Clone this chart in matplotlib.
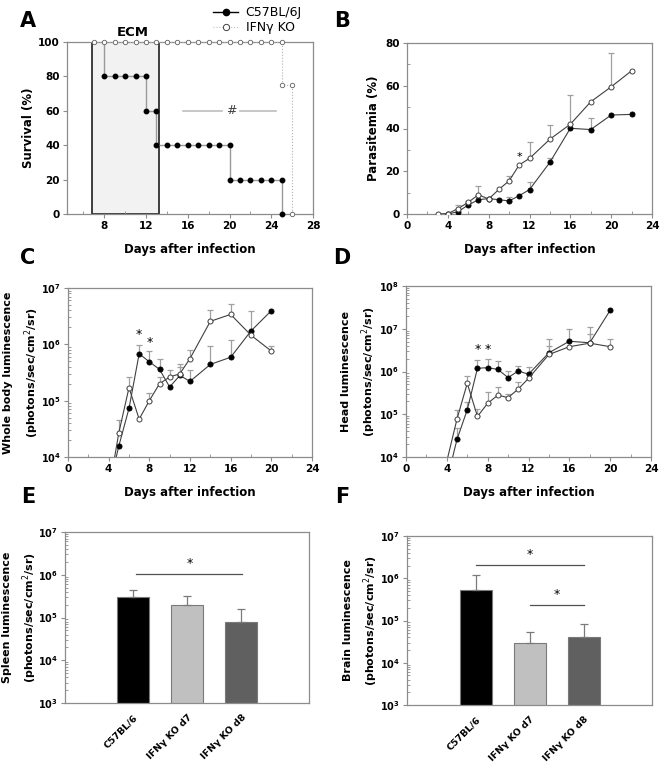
"""Survival, parasitemia and luminescence panels (C57BL/6J vs IFNg KO)."""

import numpy as np
import matplotlib
matplotlib.use("Agg")
import matplotlib.pyplot as plt
from matplotlib.lines import Line2D
from matplotlib.patches import Rectangle
from matplotlib.ticker import FuncFormatter, LogLocator, MultipleLocator, NullFormatter

# ---- A: survival ----
A_C57_DAYS = [8, 8, 9, 10, 11, 12, 12, 13, 13, 14, 15, 16, 17, 18, 19, 20, 20, 21, 22, 23, 24, 25, 25]
A_C57_SURV = [100, 80, 80, 80, 80, 80, 60, 60, 40, 40, 40, 40, 40, 40, 40, 40, 20, 20, 20, 20, 20, 20, 0]
A_IFN_DAYS = [7, 8, 9, 10, 11, 12, 13, 14, 15, 16, 17, 18, 19, 20, 21, 22, 23, 24, 25, 25, 26, 26]
A_IFN_SURV = [100] * 19 + [75, 75, 0]
ECM_WINDOW = (6.85, 13.25)

# ---- B: parasitemia ----
B_C57_DAYS = [4, 5, 6, 7, 8, 9, 10, 11, 12, 14, 16, 18, 20, 22]
B_C57 = [0, 1.1, 4.2, 6.7, 7.2, 6.7, 6.1, 8.6, 11.4, 24.2, 40.1, 39.5, 46.3, 46.6]
B_C57_HI = [np.nan, np.nan, np.nan, np.nan, np.nan, np.nan, 7.8, np.nan, 14.8, 26.4, np.nan, 44.9, np.nan, np.nan]
B_IFN_DAYS = [3, 4, 5, 6, 7, 8, 9, 10, 11, 12, 14, 16, 18, 20, 22]
B_IFN = [0, 0.2, 2.5, 5.5, 9, 7, 11.5, 15.5, 23, 26, 35, 42, 52.5, 59.5, 67]
B_IFN_HI = [np.nan, np.nan, 4.0, 6.0, 13.0, np.nan, np.nan, 18.0, np.nan, 33.5, 41.5, 55.7, np.nan, 75.5, np.nan]

# ---- C: whole body luminescence ----
LUM_DAYS = [4, 5, 6, 7, 8, 9, 10, 11, 12, 14, 16, 18, 20]
C_C57 = [2.7e3, 1.57e4, 7.3e4, 6.8e5, 4.9e5, 3.6e5, 1.75e5, 2.8e5, 2.2e5, 4.4e5, 5.9e5, 1.73e6, 3.96e6]
C_C57_HI = [np.nan, np.nan, np.nan, 9.7e5, 7.6e5, 5.6e5, np.nan, 4.0e5, 3.5e5, 9.5e5, 1.2e6, 3.86e6, np.nan]
C_IFN = [2.4e3, 2.7e4, 1.7e5, 4.7e4, 1.0e5, 2.0e5, 2.63e5, 3.0e5, 5.6e5, 2.56e6, 3.4e6, 1.45e6, 7.6e5]
C_IFN_HI = [np.nan, 4.5e4, 2.6e5, np.nan, 1.35e5, 2.6e5, 3.5e5, 4.4e5, 8.0e5, 4.1e6, 5.1e6, np.nan, 9.2e5]

# ---- D: head luminescence ----
D_C57 = [2.8e3, 2.6e4, 1.27e5, 1.19e6, 1.23e6, 1.12e6, 7.2e5, 1.03e6, 8.6e5, 2.74e6, 5.1e6, 4.7e6, 2.7e7]
D_C57_HI = [np.nan, 4.7e4, 1.9e5, 1.9e6, 2.0e6, 1.76e6, 1.03e6, 1.37e6, 1.27e6, 5.8e6, 1.0e7, 1.07e7, np.nan]
D_IFN = [8e3, 7.8e4, 5.3e5, 8.9e4, 1.8e5, 2.8e5, 2.45e5, 3.9e5, 6.9e5, 2.5e6, 3.8e6, 4.6e6, 3.8e6]
D_IFN_HI = [np.nan, 1.27e5, 8e5, 1.34e5, 3.3e5, 4.4e5, 3.0e5, 5.6e5, 9.9e5, 3.9e6, np.nan, 7.7e6, 5.8e6]

# ---- E / F: organ luminescence ----
GROUPS = ["C57BL/6", "IFNγ KO d7", "IFNγ KO d8"]
BAR_COLORS = ["#000000", "#c0c0c0", "#606060"]
E_SPLEEN = [3.0e5, 1.97e5, 7.7e4]
E_SPLEEN_HI = [4.4e5, 3.1e5, 1.6e5]
F_BRAIN = [5.2e5, 3.0e4, 4.1e4]
F_BRAIN_HI = [1.22e6, 5.4e4, 8.1e4]

W, H = 661, 773
SPINE = "#8c8c8c"
LINE = "#404040"
ERR = "#a0a0a0"

plt.rcParams["font.family"] = ["DejaVu Sans"]
plt.rcParams["mathtext.fontset"] = "dejavusans"


def box(l, t, r, b):
    return [l / W, 1 - b / H, (r - l) / W, (b - t) / H]


def style_axes(ax, xlabsize=7.5, ylabsize=7.5):
    for sp in ax.spines.values():
        sp.set_color(SPINE)
        sp.set_linewidth(0.9)
    ax.tick_params(which="major", direction="out", length=3, color=SPINE, width=0.8,
                   labelsize=7.5, pad=2)
    ax.tick_params(which="minor", direction="in", length=2, color=SPINE, width=0.6)
    ax.tick_params(axis="x", labelsize=xlabsize)
    ax.tick_params(axis="y", labelsize=ylabsize)
    for lab in ax.get_xticklabels() + ax.get_yticklabels():
        lab.set_fontweight("bold")


def set_ylabel(ax, text, xpos, size=8.5):
    ax.set_ylabel(text, fontsize=size, fontweight="bold", linespacing=1.65)
    ax.yaxis.set_label_coords(xpos, 0.5)


def log_labels(ax):
    ax.yaxis.set_major_locator(LogLocator(base=10))
    ax.yaxis.set_minor_locator(LogLocator(base=10, subs=np.arange(2, 10)))
    ax.yaxis.set_minor_formatter(NullFormatter())
    ax.yaxis.set_major_formatter(
        FuncFormatter(lambda v, p: r"$\mathbf{10^{%d}}$" % round(np.log10(v))))


def upper_err(ax, days, vals, hi):
    days = np.asarray(days, float)
    vals = np.asarray(vals, float)
    hi = np.asarray(hi, float)
    ok = ~np.isnan(hi)
    ax.errorbar(days[ok], vals[ok], yerr=[np.zeros(ok.sum()), hi[ok] - vals[ok]],
                fmt="none", ecolor=ERR, elinewidth=0.9, capsize=2.5, capthick=0.9, zorder=2)


def series(ax, days, vals, filled):
    ax.plot(days, vals, color=LINE, lw=0.8, marker="o", ms=3.6,
            mfc="black" if filled else "white", mec=LINE if not filled else "black",
            mew=0.7, zorder=3)


def days_axis(ax):
    ax.set_xlim(0, 24)
    ax.xaxis.set_major_locator(MultipleLocator(4))
    ax.xaxis.set_minor_locator(MultipleLocator(2))
    ax.set_xlabel("Days after infection", fontsize=8.5, fontweight="bold", labelpad=9)


fig = plt.figure(figsize=(W / 100, H / 100), dpi=100)

# A
ax = fig.add_axes(box(66.7, 42, 313, 214))
ax.add_patch(Rectangle((ECM_WINDOW[0], 0), ECM_WINDOW[1] - ECM_WINDOW[0], 100,
                       facecolor="#f2f2f2", edgecolor="#303030", lw=1.3, zorder=1))
ax.text(sum(ECM_WINDOW) / 2 + 0.7, 102, "ECM", ha="center", va="bottom",
        fontsize=9.5, fontweight="bold")
ax.plot(A_C57_DAYS, A_C57_SURV, color="#9a9a9a", lw=1.0, marker="o", ms=3.2,
        mfc="black", mec="black", zorder=3, clip_on=False,
        markevery=list(range(1, len(A_C57_DAYS))))
ax.plot(A_IFN_DAYS, A_IFN_SURV, color="#b0b0b0", lw=0.8, ls=":", marker="o", ms=3.2,
        mfc="white", mec="#606060", mew=0.6, zorder=4, clip_on=False)
ax.plot([15.5, 19.3], [60, 60], color="#bdbdbd", lw=1.2)
ax.plot([21.0, 24.5], [60, 60], color="#bdbdbd", lw=1.2)
ax.text(20.15, 60, "#", ha="center", va="center", fontsize=9, color="#404040")
ax.set_xlim(4.4, 28)
ax.set_ylim(0, 100)
ax.xaxis.set_minor_locator(MultipleLocator(2))
ax.yaxis.set_major_locator(MultipleLocator(20))
ax.set_xticks([8, 12, 16, 20, 24, 28])
set_ylabel(ax, "Survival (%)", -0.13)
ax.set_xlabel("Days after infection", fontsize=8.5, fontweight="bold", labelpad=9)
style_axes(ax)

# B
ax = fig.add_axes(box(407, 43, 652, 214))
upper_err(ax, B_IFN_DAYS, B_IFN, B_IFN_HI)
upper_err(ax, B_C57_DAYS, B_C57, B_C57_HI)
series(ax, B_C57_DAYS, B_C57, True)
series(ax, B_IFN_DAYS, B_IFN, False)
ax.text(11, 24.5, "*", ha="center", va="bottom", fontsize=8)
days_axis(ax)
ax.set_ylim(0, 80)
ax.yaxis.set_major_locator(MultipleLocator(20))
ax.yaxis.set_minor_locator(MultipleLocator(10))
set_ylabel(ax, "Parasitemia (%)", -0.11)
style_axes(ax)

# C
ax = fig.add_axes(box(68, 288, 312, 457))
ax.set_yscale("log")
upper_err(ax, LUM_DAYS, C_IFN, C_IFN_HI)
upper_err(ax, LUM_DAYS, C_C57, C_C57_HI)
series(ax, LUM_DAYS, C_C57, True)
series(ax, LUM_DAYS, C_IFN, False)
for d, v in [(7, 1.15e6), (8, 8.2e5)]:
    ax.text(d, v, "*", ha="center", va="bottom", fontsize=9)
days_axis(ax)
ax.set_ylim(1e4, 1e7)
log_labels(ax)
set_ylabel(ax, "Whole body luminescence\n(photons/sec/cm$^2$/sr)", -0.112, size=8)
style_axes(ax, ylabsize=7)

# D
ax = fig.add_axes(box(406, 286, 651, 457))
ax.set_yscale("log")
upper_err(ax, LUM_DAYS, D_IFN, D_IFN_HI)
upper_err(ax, LUM_DAYS, D_C57, D_C57_HI)
series(ax, LUM_DAYS, D_C57, True)
series(ax, LUM_DAYS, D_IFN, False)
for d in (7, 8):
    ax.text(d, 2.3e6, "*", ha="center", va="bottom", fontsize=9)
days_axis(ax)
ax.set_ylim(1e4, 1e8)
log_labels(ax)
set_ylabel(ax, "Head luminescence\n(photons/sec/cm$^2$/sr)", -0.115, size=8)
style_axes(ax, ylabsize=7)


def bar_panel(rect, vals, hi, ylabel, xlim, sig, label_x):
    ax = fig.add_axes(rect)
    ax.set_yscale("log")
    x = np.arange(len(vals))
    vals = np.asarray(vals)
    hi = np.asarray(hi)
    ax.bar(x, vals, width=0.59, color=BAR_COLORS, edgecolor="#7a7a7a", lw=0.8, zorder=2)
    ax.errorbar(x, vals, yerr=[np.zeros(len(x)), hi - vals], fmt="none", ecolor="#7a7a7a",
                elinewidth=0.9, capsize=3, capthick=0.9, zorder=3)
    for x0, x1, y in sig:
        ax.plot([x0, x1], [y, y], color="#505050", lw=0.9)
        ax.text((x0 + x1) / 2, y * 1.25, "*", ha="center", va="bottom", fontsize=9)
    ax.set_xlim(*xlim)
    ax.set_ylim(1e3, 1e7)
    log_labels(ax)
    ax.set_xticks(x)
    ax.set_xticklabels(GROUPS, rotation=45, ha="right", rotation_mode="anchor")
    set_ylabel(ax, ylabel, label_x, size=8)
    style_axes(ax, xlabsize=6.8, ylabsize=7)
    ax.tick_params(axis="x", length=0, pad=7)
    return ax


bar_panel(box(65, 532, 309, 703), E_SPLEEN, E_SPLEEN_HI,
          "Spleen luminescence\n(photons/sec/cm$^2$/sr)", (-1.26, 3.25),
          [(0.06, 2.02, 1.05e6)], -0.105)
bar_panel(box(407, 536, 652, 705), F_BRAIN, F_BRAIN_HI,
          "Brain luminescence\n(photons/sec/cm$^2$/sr)", (-1.28, 3.27),
          [(0.0, 2.0, 2.03e6), (1.0, 2.0, 2.3e5)], -0.11)

# panel letters
for letter, px, py in [("A", 28, 21), ("B", 342, 21), ("C", 28, 258),
                       ("D", 342, 258), ("E", 28, 497), ("F", 342, 497)]:
    fig.text(px / W, 1 - py / H, letter, ha="center", va="center", fontsize=15,
             fontweight="heavy")

handles = [
    Line2D([], [], color="black", lw=1.0, marker="o", ms=4.5, mfc="black", mec="black"),
    Line2D([], [], color="#c0c0c0", lw=0.8, ls=":", marker="o", ms=4.5, mfc="white",
           mec="#404040", mew=0.7),
]
fig.legend(handles, ["C57BL/6J", "IFNγ KO"], loc="upper left",
           bbox_to_anchor=(207 / W, 1.0), frameon=False, fontsize=9,
           handlelength=2.0, handletextpad=0.6, labelspacing=0.15, borderaxespad=0.1)

fig.savefig("out.png", dpi=100)
